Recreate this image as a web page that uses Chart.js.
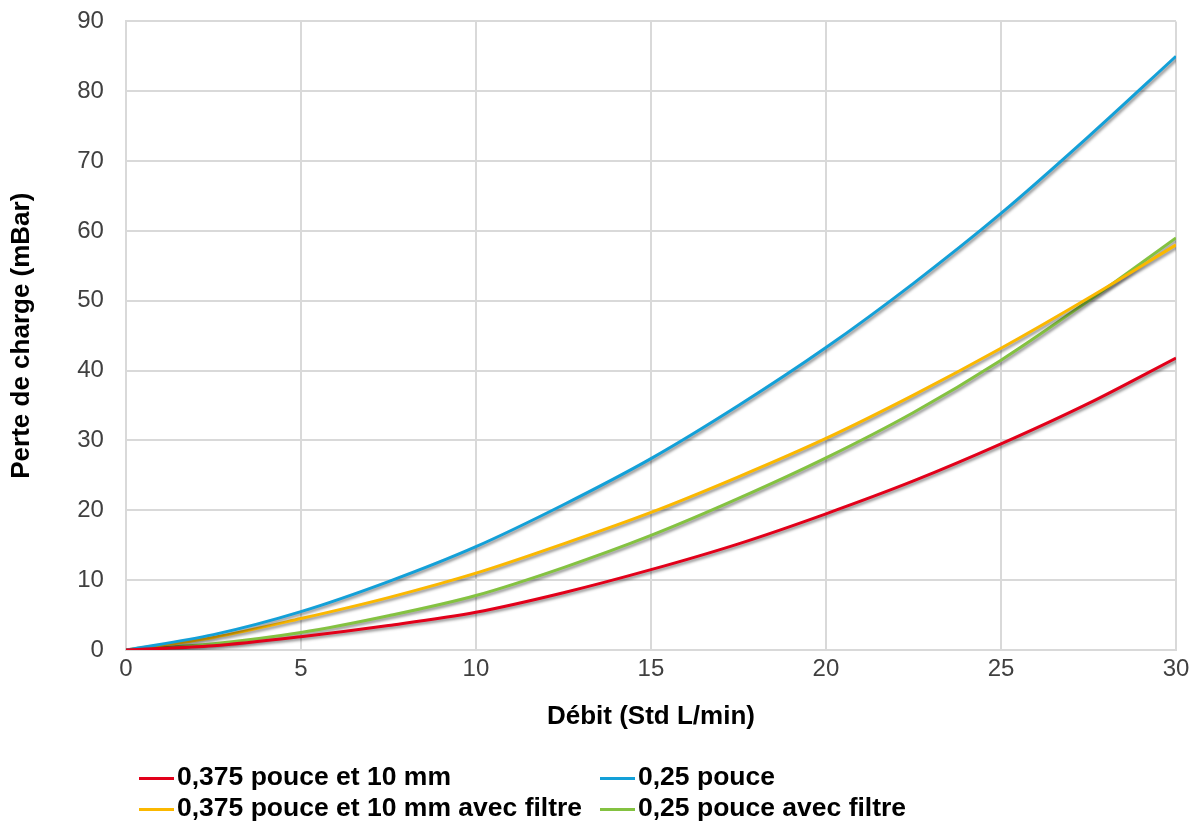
<!DOCTYPE html>
<html>
<head>
<meta charset="utf-8">
<script src="https://cdn.jsdelivr.net/npm/chart.js@4"></script>
<style>
  body { margin: 0; background: #fff; overflow: hidden; }
  #wrap { position: relative; width: 1201px; height: 823px; overflow: hidden; }
  #dataChart { position: absolute; left: 0; top: -15px; }
  #legend { position: absolute; left: 0; top: 0; width: 1201px; height: 823px; pointer-events: none;
    font-family: "Liberation Sans", Arial, sans-serif; font-weight: bold; font-size: 26.5px; color: #000; }
  .item { position: absolute; white-space: nowrap; line-height: 30px; }
  .item span.mark { display: inline-block; width: 35px; height: 3px; vertical-align: middle; margin-right: 3px; }
</style>
</head>
<body>
<div id="wrap">
  <canvas id="dataChart" width="1201" height="838"></canvas>
  <div id="legend"></div>
</div>
<script>
// Flow (Std L/min) sample points
var debit = [0, 2.5, 5, 7.5, 10, 12.5, 15, 17.5, 20, 22.5, 25, 27.5, 30];

// Pressure loss (mBar)
var pouce375 = [0, 0.6, 1.9, 3.5, 5.4, 8.2, 11.5, 15.2, 19.5, 24.2, 29.5, 35.3, 41.8];
var pouce25 = [0, 2.2, 5.5, 9.8, 14.8, 20.8, 27.4, 35.0, 43.3, 52.5, 62.5, 73.5, 85.0];
var pouce375Filtre = [0, 1.8, 4.5, 7.5, 11.0, 15.2, 19.7, 24.8, 30.3, 36.5, 43.2, 50.4, 58.0];
var pouce25Filtre = [0, 0.9, 2.5, 4.9, 7.8, 11.8, 16.4, 21.7, 27.5, 34.0, 41.5, 50.0, 59.0];

var xTicks = [0, 5, 10, 15, 20, 25, 30];
var yTicks = [0, 10, 20, 30, 40, 50, 60, 70, 80, 90];

var series = [
  { label: '0,375 pouce et 10 mm', values: pouce375, color: '#e2001a' },
  { label: '0,25 pouce', values: pouce25, color: '#13a0d8' },
  { label: '0,375 pouce et 10 mm avec filtre', values: pouce375Filtre, color: '#fbb800' },
  { label: '0,25 pouce avec filtre', values: pouce25Filtre, color: '#84c241' }
];

function toPoints(arr) {
  return debit.map(function(x, i) { return { x: x, y: arr[i] }; });
}

// soft grey shadow under each curve, like the original
var shadowPlugin = {
  id: 'lineShadow',
  beforeDatasetDraw: function(chart) {
    var c = chart.ctx;
    c.save();
    c.shadowColor = 'rgba(0,0,0,0.45)';
    c.shadowBlur = 3;
    c.shadowOffsetX = 1.5;
    c.shadowOffsetY = 2;
  },
  afterDatasetDraw: function(chart) {
    chart.ctx.restore();
  }
};

var ctx = document.getElementById('dataChart').getContext('2d');
var dataChart = new Chart(ctx, {
  type: 'line',
  data: {
    datasets: series.map(function(s) {
      return {
        label: s.label,
        data: toPoints(s.values),
        borderColor: s.color,
        backgroundColor: s.color,
        borderWidth: 3,
        pointRadius: 0,
        cubicInterpolationMode: 'monotone',
        fill: false
      };
    })
  },
  options: {
    responsive: false,
    animation: false,
    layout: { padding: { left: 2, right: 25, top: 0, bottom: 87 } },
    plugins: {
      legend: { display: false },
      tooltip: { enabled: false }
    },
    scales: {
      x: {
        type: 'linear',
        min: 0, max: 30,
        afterBuildTicks: function(axis) { axis.ticks = xTicks.map(function(v) { return { value: v }; }); },
        grid: { color: '#d9d9d9', lineWidth: 2, drawTicks: false },
        border: { color: '#d9d9d9', width: 2 },
        ticks: { color: '#404040', font: { family: 'Liberation Sans', size: 24 }, padding: 5, maxRotation: 0 },
        title: { display: true, text: 'Débit (Std L/min)', color: '#000',
          font: { family: 'Liberation Sans', size: 26, weight: 'bold' }, padding: { top: 12 } }
      },
      y: {
        min: 0, max: 90,
        afterBuildTicks: function(axis) { axis.ticks = yTicks.map(function(v) { return { value: v }; }); },
        grid: { color: '#d9d9d9', lineWidth: 2, drawTicks: false },
        border: { color: '#d9d9d9', width: 2 },
        ticks: { color: '#404040', font: { family: 'Liberation Sans', size: 24 }, padding: 22 },
        title: { display: true, text: 'Perte de charge (mBar)', color: '#000',
          font: { family: 'Liberation Sans', size: 26, weight: 'bold' }, padding: { bottom: 18 } }
      }
    }
  },
  plugins: [shadowPlugin]
});

// legend laid out in two columns like the original
var legendPos = [
  { left: 139, top: 761 },
  { left: 600, top: 761 },
  { left: 139, top: 792 },
  { left: 600, top: 792 }
];
var legendEl = document.getElementById('legend');
series.forEach(function(s, i) {
  var d = document.createElement('div');
  d.className = 'item';
  d.style.left = legendPos[i].left + 'px';
  d.style.top = legendPos[i].top + 'px';
  var m = document.createElement('span');
  m.className = 'mark';
  m.style.background = s.color;
  d.appendChild(m);
  d.appendChild(document.createTextNode(s.label));
  legendEl.appendChild(d);
});
</script>
</body>
</html>
